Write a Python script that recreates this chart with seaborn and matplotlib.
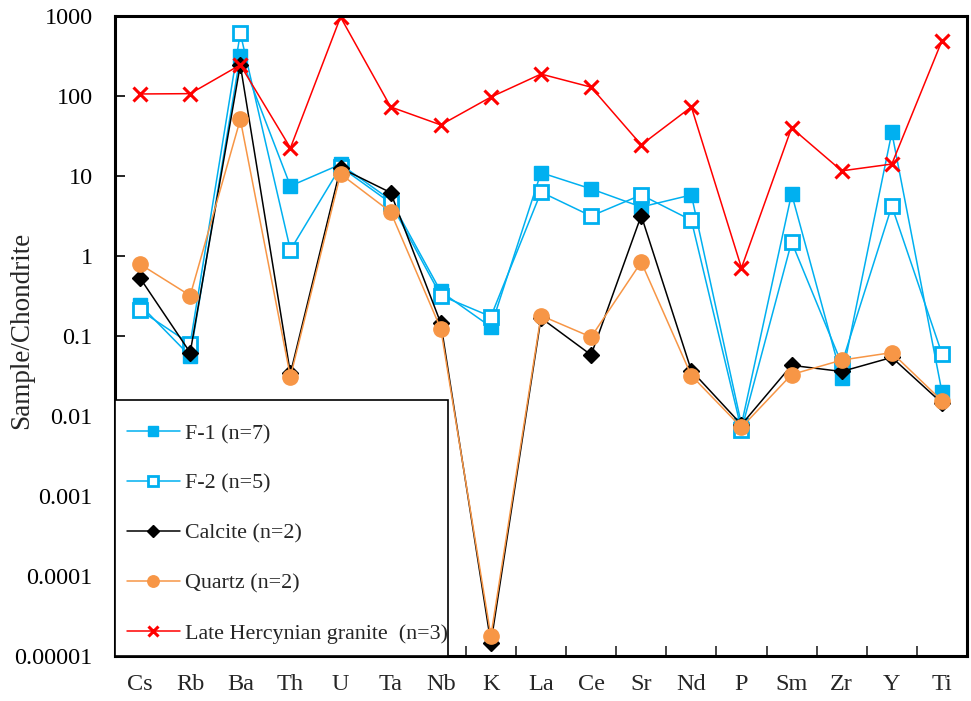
import numpy as np
import pandas as pd
import matplotlib
matplotlib.use("Agg")
import matplotlib.pyplot as plt
from matplotlib.patches import Rectangle
import seaborn as sns

elements = ["Cs", "Rb", "Ba", "Th", "U", "Ta", "Nb", "K", "La", "Ce",
            "Sr", "Nd", "P", "Sm", "Zr", "Y", "Ti"]

f1 = [0.245, 0.056, 320, 7.5, 14, 5.0, 0.36, 0.13, 11, 6.9,
      4.1, 5.8, 0.0078, 6.0, 0.030, 35, 0.020]
f2 = [0.21, 0.08, 610, 1.19, 13, 4.6, 0.32, 0.175, 6.3, 3.16,
      5.8, 2.8, 0.0067, 1.5, 0.045, 4.2, 0.060]
calcite = [0.53, 0.062, 245, 0.034, 12.6, 6.2, 0.145, 0.0000145, 0.168, 0.058,
           3.2, 0.037, 0.0078, 0.043, 0.036, 0.054, 0.0145]
quartz = [0.79, 0.32, 51, 0.031, 10.6, 3.55, 0.123, 0.0000178, 0.18, 0.097,
          0.84, 0.032, 0.0072, 0.033, 0.050, 0.062, 0.0155]
granite = [106, 107, 245, 22.4, 970, 73, 43.5, 97, 188, 129,
           24.5, 73, 0.71, 40, 11.6, 14.1, 490]

labels = ["F-1 (n=7)", "F-2 (n=5)", "Calcite (n=2)", "Quartz (n=2)",
          "Late Hercynian granite  (n=3)"]
values = [f1, f2, calcite, quartz, granite]

sns.set_theme(style="ticks")
plt.rcParams["font.family"] = ["Liberation Serif", "DejaVu Serif"]

pos = np.arange(len(elements))
df = pd.concat(
    [pd.DataFrame({"pos": pos, "value": v, "series": lab})
     for lab, v in zip(labels, values)],
    ignore_index=True,
)

blue = "#00B0F0"
orange = "#F79646"
styles = {
    labels[0]: dict(color=blue, marker="s", markersize=10,
                    markerfacecolor=blue, markeredgecolor=blue, markeredgewidth=1),
    labels[1]: dict(color=blue, marker="s", markersize=9.5,
                    markerfacecolor="white", markeredgecolor=blue, markeredgewidth=2),
    labels[2]: dict(color="black", marker="D", markersize=8.5,
                    markerfacecolor="black", markeredgecolor="black", markeredgewidth=1),
    labels[3]: dict(color=orange, marker="o", markersize=11,
                    markerfacecolor=orange, markeredgecolor=orange, markeredgewidth=1),
    labels[4]: dict(color="#FF0000", marker="x", markersize=10,
                    markeredgecolor="#FF0000", markeredgewidth=2.2),
}

fig = plt.figure(figsize=(9.71, 7.01), dpi=100)
ax = fig.add_axes([115 / 971, 1 - 656 / 701, 852 / 971, 640 / 701])

for lab in labels:
    sub = df[df["series"] == lab]
    sns.lineplot(data=sub, x="pos", y="value", ax=ax, label=lab,
                 linewidth=1.1, sort=False, estimator=None, **styles[lab])

ax.set_yscale("log")
ax.set_ylim(1e-5, 1e3)
ax.set_xlim(-0.5, len(elements) - 0.5)

yticks = [1e-5, 1e-4, 1e-3, 1e-2, 1e-1, 1, 10, 100, 1000]
ytick_labels = ["0.00001", "0.0001", "0.001", "0.01", "0.1", "1", "10", "100", "1000"]
ax.set_yticks(yticks)
ax.set_yticklabels(ytick_labels)
ax.yaxis.set_minor_locator(matplotlib.ticker.NullLocator())
ax.tick_params(axis="y", which="major", direction="in", length=7, width=1.2,
               labelsize=17.5, pad=16, colors="black")

ax.set_xticks(pos)
ax.set_xticklabels(elements)
ax.set_xticks(np.arange(len(elements) + 1) - 0.5, minor=True)
ax.tick_params(axis="x", which="major", length=0, labelsize=17.5, pad=13)
ax.tick_params(axis="x", which="minor", direction="in", length=7, width=1.2)

ax.set_xlabel("")
ax.set_ylabel("Sample/Chondrite", fontsize=19.5)
ax.yaxis.set_label_coords(-0.095, 0.509)

for side in ["left", "right", "top", "bottom"]:
    ax.spines[side].set_visible(True)
    ax.spines[side].set_color("black")
    ax.spines[side].set_linewidth(2.2)

# legend box in the lower-left corner of the plot area
box = Rectangle((0, 0), 333 / 852, 256 / 640, transform=ax.transAxes,
                facecolor="white", edgecolor="black", linewidth=1.2, zorder=5)
ax.add_patch(box)

leg = ax.legend(loc="lower left", bbox_to_anchor=(0, 0), borderaxespad=0,
                fontsize=15.8, frameon=False, handlelength=2.4, handletextpad=0.22,
                labelspacing=1.35, markerscale=0.75, borderpad=0.55)
leg.set_zorder(6)

fig.savefig("out.png", dpi=100)
